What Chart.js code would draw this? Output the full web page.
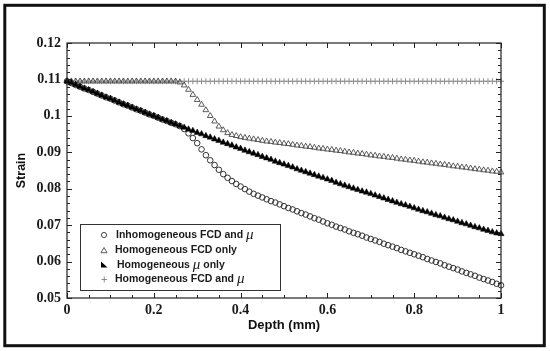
<!DOCTYPE html>
<html>
<head>
<meta charset="utf-8">
<script src="https://cdn.jsdelivr.net/npm/chart.js@4.4.1/dist/chart.umd.min.js"></script>
<style>
  html, body { margin: 0; padding: 0; background: #fff; }
  #strainChart { display: block; }
</style>
</head>
<body>
<canvas id="strainChart" width="550" height="351"></canvas>
<script>
const depth = [
  0, 0.01, 0.02, 0.03, 0.04, 0.05, 0.06, 0.07, 0.08, 0.09,
  0.1, 0.11, 0.12, 0.13, 0.14, 0.15, 0.16, 0.17, 0.18, 0.19,
  0.2, 0.21, 0.22, 0.23, 0.24, 0.25, 0.26, 0.27, 0.28, 0.29,
  0.3, 0.31, 0.32, 0.33, 0.34, 0.35, 0.36, 0.37, 0.38, 0.39,
  0.4, 0.41, 0.42, 0.43, 0.44, 0.45, 0.46, 0.47, 0.48, 0.49,
  0.5, 0.51, 0.52, 0.53, 0.54, 0.55, 0.56, 0.57, 0.58, 0.59,
  0.6, 0.61, 0.62, 0.63, 0.64, 0.65, 0.66, 0.67, 0.68, 0.69,
  0.7, 0.71, 0.72, 0.73, 0.74, 0.75, 0.76, 0.77, 0.78, 0.79,
  0.8, 0.81, 0.82, 0.83, 0.84, 0.85, 0.86, 0.87, 0.88, 0.89,
  0.9, 0.91, 0.92, 0.93, 0.94, 0.95, 0.96, 0.97, 0.98, 0.99,
  1
];
// open circles
const inhomFcdMu = [
  0.1095, 0.1090, 0.1085, 0.1080, 0.1075, 0.1071, 0.1066, 0.1061, 0.1056, 0.1051,
  0.1047, 0.1042, 0.1037, 0.1032, 0.1028, 0.1023, 0.1018, 0.1014, 0.1009, 0.1004,
  0.1000, 0.0995, 0.0990, 0.0986, 0.0981, 0.0977, 0.0972, 0.0964, 0.0952, 0.0939,
  0.0925, 0.0908, 0.0892, 0.0878, 0.0865, 0.0852, 0.0840, 0.0830, 0.0821, 0.0813,
  0.0806, 0.0799, 0.0792, 0.0786, 0.0781, 0.0776, 0.0771, 0.0766, 0.0762, 0.0757,
  0.0752, 0.0747, 0.0743, 0.0738, 0.0733, 0.0729, 0.0724, 0.0719, 0.0715, 0.0710,
  0.0705, 0.0701, 0.0696, 0.0692, 0.0688, 0.0683, 0.0679, 0.0675, 0.0671, 0.0666,
  0.0662, 0.0658, 0.0654, 0.0649, 0.0645, 0.0641, 0.0637, 0.0632, 0.0628, 0.0624,
  0.0620, 0.0616, 0.0612, 0.0607, 0.0603, 0.0599, 0.0595, 0.0590, 0.0586, 0.0582,
  0.0578, 0.0573, 0.0569, 0.0565, 0.0561, 0.0556, 0.0552, 0.0548, 0.0544, 0.0539,
  0.0535
];
// open triangles
const homFcdOnly = [
  0.1095, 0.1095, 0.1095, 0.1095, 0.1095, 0.1095, 0.1095, 0.1095, 0.1095, 0.1095,
  0.1095, 0.1095, 0.1095, 0.1095, 0.1095, 0.1095, 0.1095, 0.1095, 0.1095, 0.1095,
  0.1095, 0.1095, 0.1095, 0.1095, 0.1095, 0.1095, 0.1092, 0.1084, 0.1072, 0.1058,
  0.1044, 0.1031, 0.1016, 0.1000, 0.0985, 0.0971, 0.0961, 0.0953, 0.0948, 0.0945,
  0.0942, 0.0940, 0.0938, 0.0936, 0.0934, 0.0932, 0.0930, 0.0929, 0.0927, 0.0926,
  0.0924, 0.0923, 0.0921, 0.0919, 0.0918, 0.0916, 0.0915, 0.0913, 0.0911, 0.0910,
  0.0908, 0.0907, 0.0905, 0.0904, 0.0902, 0.0900, 0.0899, 0.0897, 0.0896, 0.0894,
  0.0892, 0.0891, 0.0889, 0.0888, 0.0886, 0.0885, 0.0883, 0.0881, 0.0880, 0.0878,
  0.0877, 0.0875, 0.0873, 0.0872, 0.0870, 0.0869, 0.0867, 0.0866, 0.0864, 0.0862,
  0.0861, 0.0859, 0.0858, 0.0856, 0.0854, 0.0853, 0.0851, 0.0850, 0.0848, 0.0847,
  0.0845
];
// filled triangles
const homMuOnly = [
  0.1095, 0.1090, 0.1085, 0.1080, 0.1075, 0.1071, 0.1066, 0.1061, 0.1056, 0.1051,
  0.1047, 0.1042, 0.1037, 0.1032, 0.1028, 0.1023, 0.1018, 0.1014, 0.1009, 0.1004,
  0.1000, 0.0995, 0.0990, 0.0986, 0.0981, 0.0977, 0.0972, 0.0968, 0.0963, 0.0959,
  0.0954, 0.0950, 0.0945, 0.0941, 0.0936, 0.0932, 0.0927, 0.0923, 0.0919, 0.0914,
  0.0910, 0.0905, 0.0901, 0.0897, 0.0893, 0.0888, 0.0884, 0.0880, 0.0875, 0.0871,
  0.0867, 0.0863, 0.0859, 0.0854, 0.0850, 0.0846, 0.0842, 0.0838, 0.0834, 0.0830,
  0.0826, 0.0822, 0.0817, 0.0813, 0.0809, 0.0805, 0.0801, 0.0797, 0.0793, 0.0790,
  0.0786, 0.0782, 0.0778, 0.0774, 0.0770, 0.0766, 0.0762, 0.0758, 0.0755, 0.0751,
  0.0747, 0.0743, 0.0739, 0.0736, 0.0732, 0.0728, 0.0725, 0.0721, 0.0717, 0.0714,
  0.0710, 0.0706, 0.0703, 0.0699, 0.0695, 0.0692, 0.0688, 0.0685, 0.0681, 0.0678,
  0.0676
];
// plus signs
const homFcdMu = [
  0.1095, 0.1095, 0.1095, 0.1095, 0.1095, 0.1095, 0.1095, 0.1095, 0.1095, 0.1095,
  0.1095, 0.1095, 0.1095, 0.1095, 0.1095, 0.1095, 0.1095, 0.1095, 0.1095, 0.1095,
  0.1095, 0.1095, 0.1095, 0.1095, 0.1095, 0.1095, 0.1095, 0.1095, 0.1095, 0.1095,
  0.1095, 0.1095, 0.1095, 0.1095, 0.1095, 0.1095, 0.1095, 0.1095, 0.1095, 0.1095,
  0.1095, 0.1095, 0.1095, 0.1095, 0.1095, 0.1095, 0.1095, 0.1095, 0.1095, 0.1095,
  0.1095, 0.1095, 0.1095, 0.1095, 0.1095, 0.1095, 0.1095, 0.1095, 0.1095, 0.1095,
  0.1095, 0.1095, 0.1095, 0.1095, 0.1095, 0.1095, 0.1095, 0.1095, 0.1095, 0.1095,
  0.1095, 0.1095, 0.1095, 0.1095, 0.1095, 0.1095, 0.1095, 0.1095, 0.1095, 0.1095,
  0.1095, 0.1095, 0.1095, 0.1095, 0.1095, 0.1095, 0.1095, 0.1095, 0.1095, 0.1095,
  0.1095, 0.1095, 0.1095, 0.1095, 0.1095, 0.1095, 0.1095, 0.1095, 0.1095, 0.1095,
  0.1095
];
const xTickLabels = ['0', '0.2', '0.4', '0.6', '0.8', '1'];
const yTickLabels = ['0.05', '0.06', '0.07', '0.08', '0.09', '0.1', '0.11', '0.12'];
const legendRows = [
  { text: 'Inhomogeneous FCD and ', mu: 'μ', after: '' },
  { text: 'Homogeneous FCD only', mu: '', after: '' },
  { text: 'Homogeneous ', mu: 'μ', after: ' only' },
  { text: 'Homogeneous FCD and ', mu: 'μ', after: '' }
];

function toPoints(ys) {
  return depth.map((d, i) => ({ x: d, y: ys[i] }));
}

const tickFont = { family: '"Liberation Serif", "Times New Roman", serif', size: 14, weight: 'bold' };
const titleFont = { family: '"Liberation Sans", Arial, sans-serif', size: 12.5, weight: 'bold' };

// frame, inward ticks, outer border and the legend box
const decorations = {
  id: 'decorations',
  beforeDraw(chart) {
    const c = chart.ctx;
    c.save();
    c.fillStyle = '#fff';
    c.fillRect(0, 0, chart.width, chart.height);
    c.restore();
  },
  afterDraw(chart) {
    const c = chart.ctx;
    const { left, right, top, bottom } = chart.chartArea;
    const xs = chart.scales.x, ys = chart.scales.y;
    c.save();
    c.strokeStyle = '#222';
    c.lineWidth = 1.2;
    c.strokeRect(left, top, right - left, bottom - top);
    c.lineWidth = 1;
    c.beginPath();
    for (let i = 0; i <= 20; i++) {
      const v = i * 0.05;
      const px = Math.round(xs.getPixelForValue(v)) + 0.5;
      const len = i % 4 === 0 ? 5 : 3;
      c.moveTo(px, bottom); c.lineTo(px, bottom - len);
      c.moveTo(px, top); c.lineTo(px, top + len);
    }
    for (let i = 0; i <= 35; i++) {
      const v = 0.05 + i * 0.002;
      const py = Math.round(ys.getPixelForValue(v)) + 0.5;
      const len = i % 5 === 0 ? 5 : 3;
      c.moveTo(left, py); c.lineTo(left + len, py);
      c.moveTo(right, py); c.lineTo(right - len, py);
    }
    c.stroke();

    // outer picture border
    c.lineWidth = 3;
    c.strokeStyle = '#111';
    c.strokeRect(4.8, 5.3, 539.5, 340.4);

    // legend
    c.lineWidth = 1;
    c.strokeStyle = '#333';
    c.fillStyle = '#fff';
    c.fillRect(80.5, 224.5, 200, 66);
    c.strokeRect(80.5, 224.5, 200, 66);
    const rowY = [235, 250.5, 265, 279.5];
    const textX = [116, 115, 117, 115];
    const metas = chart.data.datasets;
    // markers
    c.beginPath();
    c.arc(104, rowY[0], 2.6, 0, Math.PI * 2);
    c.strokeStyle = metas[0].borderColor; c.lineWidth = 0.9; c.stroke();
    c.beginPath();
    c.strokeStyle = metas[1].borderColor;
    c.moveTo(104, rowY[1] - 3); c.lineTo(107, rowY[1] + 2.2); c.lineTo(101, rowY[1] + 2.2);
    c.closePath(); c.stroke();
    c.beginPath();
    c.fillStyle = '#000';
    c.moveTo(101, rowY[2] - 3.5); c.lineTo(101, rowY[2] + 2.5); c.lineTo(107.5, rowY[2] + 2.5);
    c.closePath(); c.fill();
    c.strokeStyle = metas[3].borderColor; c.lineWidth = 0.9;
    c.beginPath();
    c.moveTo(101.5, rowY[3]); c.lineTo(107, rowY[3]);
    c.moveTo(104.25, rowY[3] - 3); c.lineTo(104.25, rowY[3] + 3);
    c.stroke();
    // labels
    c.textBaseline = 'middle';
    c.fillStyle = '#1a1a1a';
    legendRows.forEach((row, i) => {
      let x = textX[i];
      c.font = 'bold 10.5px "Liberation Sans", Arial, sans-serif';
      c.fillText(row.text, x, rowY[i]);
      x += c.measureText(row.text).width;
      if (row.mu) {
        c.font = 'italic 15px "Liberation Serif", "Times New Roman", serif';
        c.fillText(row.mu, x, rowY[i]);
        x += c.measureText(row.mu).width;
      }
      if (row.after) {
        c.font = 'bold 10.5px "Liberation Sans", Arial, sans-serif';
        c.fillText(row.after, x, rowY[i]);
      }
    });
    c.restore();
  }
};

new Chart(document.getElementById('strainChart'), {
  type: 'scatter',
  data: {
    datasets: [
      {
        label: 'Inhomogeneous FCD and μ',
        data: toPoints(inhomFcdMu),
        pointStyle: 'circle',
        pointRadius: 2.8,
        pointBorderWidth: 1,
        borderColor: '#333',
        backgroundColor: 'rgba(0,0,0,0)',
        order: 3,
        clip: false
      },
      {
        label: 'Homogeneous FCD only',
        data: toPoints(homFcdOnly),
        pointStyle: 'triangle',
        pointRadius: 3.3,
        pointBorderWidth: 0.9,
        borderColor: '#4a4a4a',
        backgroundColor: 'rgba(0,0,0,0)',
        order: 2,
        clip: false
      },
      {
        label: 'Homogeneous μ only',
        data: toPoints(homMuOnly),
        pointStyle: 'triangle',
        pointRadius: 3.6,
        pointBorderWidth: 0.5,
        borderColor: '#000',
        backgroundColor: '#000',
        order: 1,
        clip: false
      },
      {
        label: 'Homogeneous FCD and μ',
        data: toPoints(homFcdMu),
        pointStyle: 'cross',
        pointRadius: 3,
        pointBorderWidth: 0.9,
        borderColor: '#808080',
        backgroundColor: '#808080',
        order: 4,
        clip: false
      }
    ]
  },
  options: {
    responsive: false,
    animation: false,
    events: [],
    layout: { padding: { left: 0, top: 43, right: 49, bottom: 0 } },
    plugins: {
      legend: { display: false },
      tooltip: { enabled: false }
    },
    scales: {
      x: {
        type: 'linear',
        min: 0,
        max: 1,
        afterFit(scale) { scale.height = 53; },
        grid: { display: false, drawTicks: false },
        border: { display: false },
        ticks: {
          stepSize: 0.2,
          padding: 4,
          color: '#1a1a1a',
          font: tickFont,
          maxRotation: 0,
          callback: (v, i) => xTickLabels[i]
        },
        title: {
          display: true,
          text: 'Depth (mm)',
          color: '#111',
          font: { ...titleFont, size: 13 },
          padding: { top: 0, bottom: 18 }
        }
      },
      y: {
        type: 'linear',
        min: 0.05,
        max: 0.12,
        afterFit(scale) { scale.width = 67; },
        grid: { display: false, drawTicks: false },
        border: { display: false },
        ticks: {
          stepSize: 0.01,
          padding: 6,
          color: '#1a1a1a',
          font: tickFont,
          callback: (v, i) => yTickLabels[i]
        },
        title: {
          display: true,
          text: 'Strain',
          color: '#111',
          font: titleFont,
          padding: { top: 14, bottom: 0 }
        }
      }
    }
  },
  plugins: [decorations]
});
</script>
</body>
</html>
